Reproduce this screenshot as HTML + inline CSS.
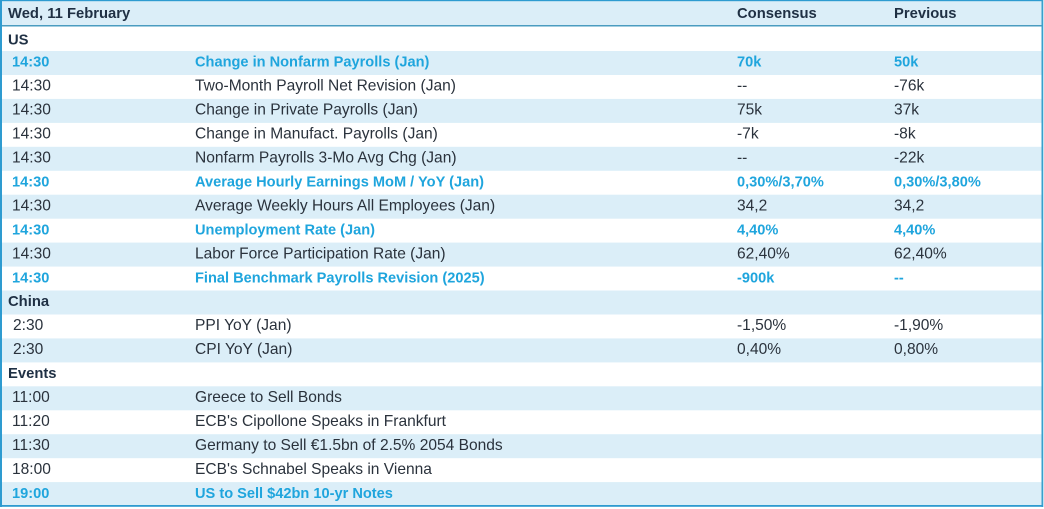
<!DOCTYPE html>
<html><head><meta charset="utf-8"><style>
html,body{margin:0;padding:0;background:#fff;}
svg{display:block;}
text{font-family:"Liberation Sans",sans-serif;}
.r{font-size:15.55px;fill:#2a323c;}
.b{font-size:14.6px;font-weight:bold;fill:#1fa5dd;}
.h{font-size:14.8px;font-weight:bold;fill:#1f3044;}
</style></head><body>
<svg width="1044" height="509" viewBox="0 0 1044 509" xmlns="http://www.w3.org/2000/svg">
<rect x="0" y="0" width="1044" height="509" fill="#fff"/>
<!-- header -->
<rect x="0" y="0" width="1043" height="26" fill="#dbeef8"/>
<rect x="0" y="25" width="1043" height="1.5" fill="#4a9cc0"/>
<!-- row backgrounds -->
<rect x="0" y="51" width="1043" height="24" fill="#dbeef8"/>
<rect x="0" y="98.9" width="1043" height="24" fill="#dbeef8"/>
<rect x="0" y="146.8" width="1043" height="24" fill="#dbeef8"/>
<rect x="0" y="194.7" width="1043" height="24" fill="#dbeef8"/>
<rect x="0" y="242.6" width="1043" height="24" fill="#dbeef8"/>
<rect x="0" y="290.5" width="1043" height="24" fill="#dbeef8"/>
<rect x="0" y="338.4" width="1043" height="24" fill="#dbeef8"/>
<rect x="0" y="386.3" width="1043" height="24" fill="#dbeef8"/>
<rect x="0" y="434.2" width="1043" height="24" fill="#dbeef8"/>
<rect x="0" y="482.1" width="1043" height="23" fill="#dbeef8"/>
<!-- borders -->
<rect x="0" y="0" width="1043" height="1.2" fill="#2e9bd0"/>
<rect x="0" y="0" width="2" height="507" fill="#2e9bd0"/>
<rect x="1041.5" y="0" width="1.8" height="507" fill="#3aa0cc"/>
<rect x="0" y="505" width="1043" height="1.8" fill="#2e9bd0"/>

<!-- header text -->
<text class="h" x="8" y="18">Wed, 11 February</text>
<text class="h" x="737" y="18">Consensus</text>
<text class="h" x="894" y="18">Previous</text>
<text class="h" x="8" y="44.5">US</text>

<g class="b"><text x="12" y="66.7">14:30</text><text x="195" y="66.7">Change in Nonfarm Payrolls (Jan)</text><text x="737" y="66.7">70k</text><text x="894" y="66.7">50k</text></g>
<g class="r"><text x="12" y="90.6">14:30</text><text x="195" y="90.6">Two-Month Payroll Net Revision (Jan)</text><text x="737" y="90.6">--</text><text x="894" y="90.6">-76k</text></g>
<g class="r"><text x="12" y="114.6">14:30</text><text x="195" y="114.6">Change in Private Payrolls (Jan)</text><text x="737" y="114.6">75k</text><text x="894" y="114.6">37k</text></g>
<g class="r"><text x="12" y="138.5">14:30</text><text x="195" y="138.5">Change in Manufact. Payrolls (Jan)</text><text x="737" y="138.5">-7k</text><text x="894" y="138.5">-8k</text></g>
<g class="r"><text x="12" y="162.5">14:30</text><text x="195" y="162.5">Nonfarm Payrolls 3-Mo Avg Chg (Jan)</text><text x="737" y="162.5">--</text><text x="894" y="162.5">-22k</text></g>
<g class="b"><text x="12" y="186.4">14:30</text><text x="195" y="186.4">Average Hourly Earnings MoM / YoY (Jan)</text><text x="737" y="186.4">0,30%/3,70%</text><text x="894" y="186.4">0,30%/3,80%</text></g>
<g class="r"><text x="12" y="210.4">14:30</text><text x="195" y="210.4">Average Weekly Hours All Employees (Jan)</text><text x="737" y="210.4">34,2</text><text x="894" y="210.4">34,2</text></g>
<g class="b"><text x="12" y="234.3">14:30</text><text x="195" y="234.3">Unemployment Rate (Jan)</text><text x="737" y="234.3">4,40%</text><text x="894" y="234.3">4,40%</text></g>
<g class="r"><text x="12" y="258.3">14:30</text><text x="195" y="258.3">Labor Force Participation Rate (Jan)</text><text x="737" y="258.3">62,40%</text><text x="894" y="258.3">62,40%</text></g>
<g class="b"><text x="12" y="282.3">14:30</text><text x="195" y="282.3">Final Benchmark Payrolls Revision (2025)</text><text x="737" y="282.3">-900k</text><text x="894" y="282.3">--</text></g>
<text class="h" x="8" y="306.2">China</text>
<g class="r"><text x="13" y="330.2">2:30</text><text x="195" y="330.2">PPI YoY (Jan)</text><text x="737" y="330.2">-1,50%</text><text x="894" y="330.2">-1,90%</text></g>
<g class="r"><text x="13" y="354.1">2:30</text><text x="195" y="354.1">CPI YoY (Jan)</text><text x="737" y="354.1">0,40%</text><text x="894" y="354.1">0,80%</text></g>
<text class="h" x="8" y="378.1">Events</text>
<g class="r"><text x="12" y="402">11:00</text><text x="195" y="402">Greece to Sell Bonds</text></g>
<g class="r"><text x="12" y="426">11:20</text><text x="195" y="426">ECB's Cipollone Speaks in Frankfurt</text></g>
<g class="r"><text x="12" y="449.9">11:30</text><text x="195" y="449.9">Germany to Sell €1.5bn of 2.5% 2054 Bonds</text></g>
<g class="r"><text x="12" y="473.9">18:00</text><text x="195" y="473.9">ECB's Schnabel Speaks in Vienna</text></g>
<g class="b"><text x="12" y="497.8">19:00</text><text x="195" y="497.8">US to Sell $42bn 10-yr Notes</text></g>
</svg>
</body></html>
